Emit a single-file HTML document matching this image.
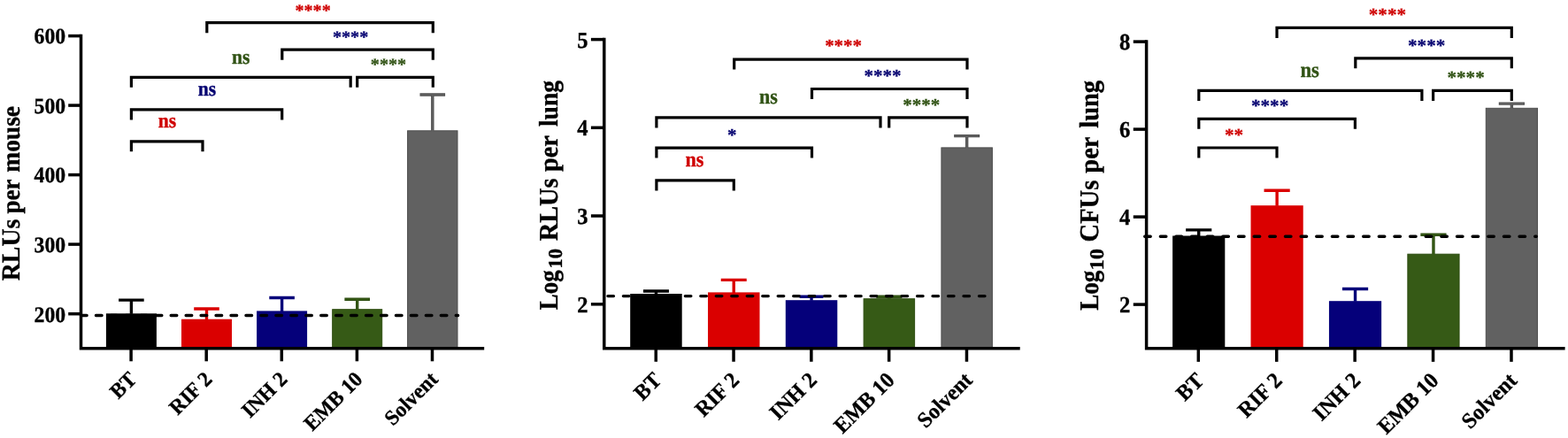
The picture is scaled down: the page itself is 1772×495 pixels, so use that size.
<!DOCTYPE html>
<html lang="en">
<head>
<meta charset="utf-8">
<title>Figure</title>
<style>
html,body{margin:0;padding:0;background:#fff;}
body{width:1772px;height:495px;overflow:hidden;}
svg{display:block;}
svg text{font-family:"Liberation Serif","DejaVu Serif",serif;font-weight:bold;white-space:pre;text-rendering:geometricPrecision;stroke-linejoin:round;}
</style>
</head>
<body>
<svg width="1772" height="495" viewBox="0 0 1772 495">
<rect x="0" y="0" width="1772" height="495" fill="#ffffff"/>
<rect x="119.90" y="354.30" width="57.00" height="39.40" fill="#000000"/>
<path d="M148.40 354.80V339.10M134.10 339.10H162.70" fill="none" stroke="#000000" stroke-width="3.4"/>
<rect x="205.00" y="360.70" width="57.00" height="33.00" fill="#da0000"/>
<path d="M233.50 361.20V349.00M219.20 349.00H247.80" fill="none" stroke="#da0000" stroke-width="3.4"/>
<rect x="290.10" y="351.40" width="57.00" height="42.30" fill="#05007a"/>
<path d="M318.60 351.90V336.50M304.30 336.50H332.90" fill="none" stroke="#05007a" stroke-width="3.4"/>
<rect x="375.70" y="349.70" width="56.00" height="44.00" fill="#365a16" stroke="#2d4d11" stroke-width="1"/>
<path d="M403.70 349.70V338.30M389.40 338.30H418.00" fill="none" stroke="#2d4d11" stroke-width="3.4"/>
<path d="M403.70 350.70V338.30M390.30 338.30H417.10" fill="none" stroke="#365a16" stroke-width="1.6"/>
<rect x="460.60" y="147.80" width="56.40" height="245.90" fill="#616161" stroke="#4e4e4e" stroke-width="1"/>
<path d="M488.80 147.80V107.00M474.50 107.00H503.10" fill="none" stroke="#4e4e4e" stroke-width="3.4"/>
<path d="M488.80 148.80V107.00M475.40 107.00H502.20" fill="none" stroke="#616161" stroke-width="1.6"/>
<path d="M91.50 356.50H517.60" fill="none" stroke="#000000" stroke-width="3.4" stroke-linecap="round" stroke-dasharray="6.6 10.35" stroke-dashoffset="0"/>
<path d="M91.50 38.85V393.70H547.20" fill="none" stroke="#000000" stroke-width="3.5" stroke-linejoin="miter" stroke-linecap="butt"/>
<path d="M77.20 40.60H91.50" stroke="#000000" stroke-width="3.5" fill="none"/>
<text transform="translate(74.20 49.40) scale(0.95 1)" font-size="25.0" fill="#000000" stroke="#000000" stroke-width="0.35" text-anchor="end">600</text>
<path d="M77.20 119.10H91.50" stroke="#000000" stroke-width="3.5" fill="none"/>
<text transform="translate(74.20 127.90) scale(0.95 1)" font-size="25.0" fill="#000000" stroke="#000000" stroke-width="0.35" text-anchor="end">500</text>
<path d="M77.20 197.60H91.50" stroke="#000000" stroke-width="3.5" fill="none"/>
<text transform="translate(74.20 206.40) scale(0.95 1)" font-size="25.0" fill="#000000" stroke="#000000" stroke-width="0.35" text-anchor="end">400</text>
<path d="M77.20 276.10H91.50" stroke="#000000" stroke-width="3.5" fill="none"/>
<text transform="translate(74.20 284.90) scale(0.95 1)" font-size="25.0" fill="#000000" stroke="#000000" stroke-width="0.35" text-anchor="end">300</text>
<path d="M77.20 354.70H91.50" stroke="#000000" stroke-width="3.5" fill="none"/>
<text transform="translate(74.20 363.50) scale(0.95 1)" font-size="25.0" fill="#000000" stroke="#000000" stroke-width="0.35" text-anchor="end">200</text>
<path d="M148.10 393.70V408.30" stroke="#000000" stroke-width="3.5" fill="none"/>
<path d="M233.20 393.70V408.30" stroke="#000000" stroke-width="3.5" fill="none"/>
<path d="M318.30 393.70V408.30" stroke="#000000" stroke-width="3.5" fill="none"/>
<path d="M403.40 393.70V408.30" stroke="#000000" stroke-width="3.5" fill="none"/>
<path d="M488.50 393.70V408.30" stroke="#000000" stroke-width="3.5" fill="none"/>
<text transform="translate(155.80 429.90) rotate(-45) scale(0.97 1)" font-size="24.0" fill="#000000" stroke="#000000" stroke-width="0.35" text-anchor="end">BT</text>
<text transform="translate(240.90 429.90) rotate(-45) scale(0.97 1)" font-size="24.0" fill="#000000" stroke="#000000" stroke-width="0.35" text-anchor="end">RIF 2</text>
<text transform="translate(326.00 429.90) rotate(-45) scale(0.97 1)" font-size="24.0" fill="#000000" stroke="#000000" stroke-width="0.35" text-anchor="end">INH 2</text>
<text transform="translate(411.10 429.90) rotate(-45) scale(0.97 1)" font-size="24.0" fill="#000000" stroke="#000000" stroke-width="0.35" text-anchor="end">EMB 10</text>
<text transform="translate(496.20 429.90) rotate(-45) scale(0.97 1)" font-size="24.0" fill="#000000" stroke="#000000" stroke-width="0.35" text-anchor="end">Solvent</text>
<text transform="translate(21.50 0) rotate(-90)" fill="#000000" stroke="#000000" stroke-width="0.35" text-anchor="start"><tspan x="-317.25" y="0.00" font-size="29.3" textLength="69.60" lengthAdjust="spacingAndGlyphs">RLUs</tspan> <tspan x="-241.56" y="0.00" font-size="29.3" textLength="38.92" lengthAdjust="spacingAndGlyphs">per</tspan> <tspan x="-194.72" y="0.00" font-size="29.3" textLength="74.74" lengthAdjust="spacingAndGlyphs">mouse</tspan></text>
<path d="M233.80 37.20V25.70H489.30V37.20" fill="none" stroke="#000000" stroke-width="3.2" stroke-linecap="butt" stroke-linejoin="miter"/>
<path d="M318.80 67.70V56.20H489.30V67.70" fill="none" stroke="#000000" stroke-width="3.2" stroke-linecap="butt" stroke-linejoin="miter"/>
<path d="M148.40 98.80V87.30H396.20V98.80" fill="none" stroke="#000000" stroke-width="3.2" stroke-linecap="butt" stroke-linejoin="miter"/>
<path d="M403.70 98.80V87.30H489.30V98.80" fill="none" stroke="#000000" stroke-width="3.2" stroke-linecap="butt" stroke-linejoin="miter"/>
<path d="M148.40 135.40V123.90H318.70V135.40" fill="none" stroke="#000000" stroke-width="3.2" stroke-linecap="butt" stroke-linejoin="miter"/>
<path d="M148.40 171.30V159.80H229.00V171.30" fill="none" stroke="#000000" stroke-width="3.2" stroke-linecap="butt" stroke-linejoin="miter"/>
<text transform="translate(353.60 18.10) scale(1.06 1)" font-size="19.0" fill="#cf0000" stroke="#cf0000" stroke-width="0.3" text-anchor="middle">****</text>
<text transform="translate(396.10 48.30) scale(1.06 1)" font-size="19.0" fill="#040070" stroke="#040070" stroke-width="0.3" text-anchor="middle">****</text>
<text transform="translate(439.00 79.30) scale(1.06 1)" font-size="19.0" fill="#305214" stroke="#305214" stroke-width="0.3" text-anchor="middle">****</text>
<text transform="translate(272.30 72.00) scale(0.92 1)" font-size="23.5" fill="#305214" stroke="#305214" stroke-width="0.35" text-anchor="middle">ns</text>
<text transform="translate(234.00 108.00) scale(0.92 1)" font-size="23.5" fill="#040070" stroke="#040070" stroke-width="0.35" text-anchor="middle">ns</text>
<text transform="translate(189.00 144.30) scale(0.92 1)" font-size="23.5" fill="#cf0000" stroke="#cf0000" stroke-width="0.35" text-anchor="middle">ns</text>
<rect x="712.20" y="332.00" width="58.50" height="61.70" fill="#000000"/>
<path d="M741.45 332.50V329.00M726.95 329.00H755.95" fill="none" stroke="#000000" stroke-width="3.4"/>
<rect x="800.00" y="330.40" width="58.50" height="63.30" fill="#da0000"/>
<path d="M829.25 330.90V316.40M814.75 316.40H843.75" fill="none" stroke="#da0000" stroke-width="3.4"/>
<rect x="887.80" y="339.20" width="58.50" height="54.50" fill="#05007a"/>
<path d="M917.05 339.70V335.20M903.55 335.20H930.55" fill="none" stroke="#05007a" stroke-width="3.4"/>
<rect x="976.10" y="337.70" width="57.50" height="56.00" fill="#365a16" stroke="#2d4d11" stroke-width="1"/>
<path d="M1004.85 337.70V335.20M990.35 335.20H1019.35" fill="none" stroke="#2d4d11" stroke-width="3.4"/>
<path d="M1004.85 338.70V335.20M991.25 335.20H1018.45" fill="none" stroke="#365a16" stroke-width="1.6"/>
<rect x="1063.90" y="166.90" width="57.50" height="226.80" fill="#616161" stroke="#4e4e4e" stroke-width="1"/>
<path d="M1092.65 166.90V153.60M1078.15 153.60H1107.15" fill="none" stroke="#4e4e4e" stroke-width="3.4"/>
<path d="M1092.65 167.90V153.60M1079.05 153.60H1106.25" fill="none" stroke="#616161" stroke-width="1.6"/>
<path d="M686.95 334.60H1113.40" fill="none" stroke="#000000" stroke-width="3.4" stroke-linecap="round" stroke-dasharray="6.5 10.98" stroke-dashoffset="0"/>
<path d="M682.75 42.85V393.70H1152.70" fill="none" stroke="#000000" stroke-width="3.5" stroke-linejoin="miter" stroke-linecap="butt"/>
<path d="M667.90 44.60H682.75" stroke="#000000" stroke-width="3.5" fill="none"/>
<text transform="translate(664.60 53.68) scale(0.95 1)" font-size="25.8" fill="#000000" stroke="#000000" stroke-width="0.35" text-anchor="end">5</text>
<path d="M667.90 144.30H682.75" stroke="#000000" stroke-width="3.5" fill="none"/>
<text transform="translate(664.60 153.38) scale(0.95 1)" font-size="25.8" fill="#000000" stroke="#000000" stroke-width="0.35" text-anchor="end">4</text>
<path d="M667.90 244.00H682.75" stroke="#000000" stroke-width="3.5" fill="none"/>
<text transform="translate(664.60 253.08) scale(0.95 1)" font-size="25.8" fill="#000000" stroke="#000000" stroke-width="0.35" text-anchor="end">3</text>
<path d="M667.90 343.80H682.75" stroke="#000000" stroke-width="3.5" fill="none"/>
<text transform="translate(664.60 352.88) scale(0.95 1)" font-size="25.8" fill="#000000" stroke="#000000" stroke-width="0.35" text-anchor="end">2</text>
<path d="M741.25 393.70V408.77" stroke="#000000" stroke-width="3.5" fill="none"/>
<path d="M829.05 393.70V408.77" stroke="#000000" stroke-width="3.5" fill="none"/>
<path d="M916.85 393.70V408.77" stroke="#000000" stroke-width="3.5" fill="none"/>
<path d="M1004.65 393.70V408.77" stroke="#000000" stroke-width="3.5" fill="none"/>
<path d="M1092.45 393.70V408.77" stroke="#000000" stroke-width="3.5" fill="none"/>
<text transform="translate(748.85 431.00) rotate(-45) scale(0.97 1)" font-size="24.77" fill="#000000" stroke="#000000" stroke-width="0.35" text-anchor="end">BT</text>
<text transform="translate(836.65 431.00) rotate(-45) scale(0.97 1)" font-size="24.77" fill="#000000" stroke="#000000" stroke-width="0.35" text-anchor="end">RIF 2</text>
<text transform="translate(924.45 431.00) rotate(-45) scale(0.97 1)" font-size="24.77" fill="#000000" stroke="#000000" stroke-width="0.35" text-anchor="end">INH 2</text>
<text transform="translate(1012.25 431.00) rotate(-45) scale(0.97 1)" font-size="24.77" fill="#000000" stroke="#000000" stroke-width="0.35" text-anchor="end">EMB 10</text>
<text transform="translate(1100.05 431.00) rotate(-45) scale(0.97 1)" font-size="24.77" fill="#000000" stroke="#000000" stroke-width="0.35" text-anchor="end">Solvent</text>
<text transform="translate(629.50 0) rotate(-90)" fill="#000000" stroke="#000000" stroke-width="0.35" text-anchor="start"><tspan x="-350.18" y="0.00" font-size="30.24" textLength="44.86" lengthAdjust="spacingAndGlyphs">Log</tspan> <tspan x="-303.45" y="5.80" font-size="22.5" textLength="22.50" lengthAdjust="spacingAndGlyphs">10</tspan> <tspan x="-272.28" y="0.00" font-size="30.24" textLength="70.85" lengthAdjust="spacingAndGlyphs">RLUs</tspan> <tspan x="-194.11" y="0.00" font-size="30.24" textLength="40.91" lengthAdjust="spacingAndGlyphs">per</tspan> <tspan x="-143.10" y="0.00" font-size="30.24" textLength="52.30" lengthAdjust="spacingAndGlyphs">lung</tspan></text>
<path d="M829.70 78.60V67.10H1093.00V78.60" fill="none" stroke="#000000" stroke-width="3.2" stroke-linecap="butt" stroke-linejoin="miter"/>
<path d="M917.50 112.00V100.50H1093.00V112.00" fill="none" stroke="#000000" stroke-width="3.2" stroke-linecap="butt" stroke-linejoin="miter"/>
<path d="M741.90 144.40V132.90H995.00V144.40" fill="none" stroke="#000000" stroke-width="3.2" stroke-linecap="butt" stroke-linejoin="miter"/>
<path d="M1004.70 144.40V132.90H1093.00V144.40" fill="none" stroke="#000000" stroke-width="3.2" stroke-linecap="butt" stroke-linejoin="miter"/>
<path d="M741.90 178.60V167.10H917.50V178.60" fill="none" stroke="#000000" stroke-width="3.2" stroke-linecap="butt" stroke-linejoin="miter"/>
<path d="M741.90 215.40V203.90H829.30V215.40" fill="none" stroke="#000000" stroke-width="3.2" stroke-linecap="butt" stroke-linejoin="miter"/>
<text transform="translate(953.10 58.10) scale(1.06 1)" font-size="19.8" fill="#cf0000" stroke="#cf0000" stroke-width="0.3" text-anchor="middle">****</text>
<text transform="translate(997.40 92.30) scale(1.06 1)" font-size="19.8" fill="#040070" stroke="#040070" stroke-width="0.3" text-anchor="middle">****</text>
<text transform="translate(1041.30 124.60) scale(1.06 1)" font-size="19.8" fill="#305214" stroke="#305214" stroke-width="0.3" text-anchor="middle">****</text>
<text transform="translate(868.50 117.00) scale(0.92 1)" font-size="24" fill="#305214" stroke="#305214" stroke-width="0.35" text-anchor="middle">ns</text>
<text transform="translate(827.20 158.90) scale(1.06 1)" font-size="19.8" fill="#040070" stroke="#040070" stroke-width="0.3" text-anchor="middle">*</text>
<text transform="translate(785.00 188.00) scale(0.92 1)" font-size="24" fill="#cf0000" stroke="#cf0000" stroke-width="0.35" text-anchor="middle">ns</text>
<rect x="1325.10" y="266.50" width="59.20" height="127.20" fill="#000000"/>
<path d="M1354.70 267.00V259.90M1340.10 259.90H1369.30" fill="none" stroke="#000000" stroke-width="3.4"/>
<rect x="1413.52" y="232.20" width="59.20" height="161.50" fill="#da0000"/>
<path d="M1443.12 232.70V215.30M1428.52 215.30H1457.72" fill="none" stroke="#da0000" stroke-width="3.4"/>
<rect x="1501.94" y="340.20" width="59.20" height="53.50" fill="#05007a"/>
<path d="M1531.54 340.70V326.50M1516.94 326.50H1546.14" fill="none" stroke="#05007a" stroke-width="3.4"/>
<rect x="1590.86" y="287.20" width="58.20" height="106.50" fill="#365a16" stroke="#2d4d11" stroke-width="1"/>
<path d="M1619.96 287.20V265.30M1605.36 265.30H1634.56" fill="none" stroke="#2d4d11" stroke-width="3.4"/>
<path d="M1619.96 288.20V265.30M1606.26 265.30H1633.66" fill="none" stroke="#365a16" stroke-width="1.6"/>
<rect x="1679.28" y="122.30" width="58.20" height="271.40" fill="#616161" stroke="#4e4e4e" stroke-width="1"/>
<path d="M1708.38 122.30V117.10M1693.78 117.10H1722.98" fill="none" stroke="#4e4e4e" stroke-width="3.4"/>
<path d="M1708.38 123.30V117.10M1694.68 117.10H1722.08" fill="none" stroke="#616161" stroke-width="1.6"/>
<path d="M1293.70 267.30H1736.30" fill="none" stroke="#000000" stroke-width="3.4" stroke-linecap="round" stroke-dasharray="6.5 11.14" stroke-dashoffset="0"/>
<path d="M1295.60 45.35V393.70H1768.60" fill="none" stroke="#000000" stroke-width="3.5" stroke-linejoin="miter" stroke-linecap="butt"/>
<path d="M1280.75 47.10H1295.60" stroke="#000000" stroke-width="3.5" fill="none"/>
<text transform="translate(1277.45 56.24) scale(0.95 1)" font-size="25.97" fill="#000000" stroke="#000000" stroke-width="0.35" text-anchor="end">8</text>
<path d="M1280.75 146.10H1295.60" stroke="#000000" stroke-width="3.5" fill="none"/>
<text transform="translate(1277.45 155.24) scale(0.95 1)" font-size="25.97" fill="#000000" stroke="#000000" stroke-width="0.35" text-anchor="end">6</text>
<path d="M1280.75 245.10H1295.60" stroke="#000000" stroke-width="3.5" fill="none"/>
<text transform="translate(1277.45 254.24) scale(0.95 1)" font-size="25.97" fill="#000000" stroke="#000000" stroke-width="0.35" text-anchor="end">4</text>
<path d="M1280.75 344.10H1295.60" stroke="#000000" stroke-width="3.5" fill="none"/>
<text transform="translate(1277.45 353.24) scale(0.95 1)" font-size="25.97" fill="#000000" stroke="#000000" stroke-width="0.35" text-anchor="end">2</text>
<path d="M1354.30 393.70V408.87" stroke="#000000" stroke-width="3.5" fill="none"/>
<path d="M1442.72 393.70V408.87" stroke="#000000" stroke-width="3.5" fill="none"/>
<path d="M1531.14 393.70V408.87" stroke="#000000" stroke-width="3.5" fill="none"/>
<path d="M1619.56 393.70V408.87" stroke="#000000" stroke-width="3.5" fill="none"/>
<path d="M1707.98 393.70V408.87" stroke="#000000" stroke-width="3.5" fill="none"/>
<text transform="translate(1361.90 431.50) rotate(-45) scale(0.97 1)" font-size="24.94" fill="#000000" stroke="#000000" stroke-width="0.35" text-anchor="end">BT</text>
<text transform="translate(1450.32 431.50) rotate(-45) scale(0.97 1)" font-size="24.94" fill="#000000" stroke="#000000" stroke-width="0.35" text-anchor="end">RIF 2</text>
<text transform="translate(1538.74 431.50) rotate(-45) scale(0.97 1)" font-size="24.94" fill="#000000" stroke="#000000" stroke-width="0.35" text-anchor="end">INH 2</text>
<text transform="translate(1627.16 431.50) rotate(-45) scale(0.97 1)" font-size="24.94" fill="#000000" stroke="#000000" stroke-width="0.35" text-anchor="end">EMB 10</text>
<text transform="translate(1715.58 431.50) rotate(-45) scale(0.97 1)" font-size="24.94" fill="#000000" stroke="#000000" stroke-width="0.35" text-anchor="end">Solvent</text>
<text transform="translate(1241.00 0) rotate(-90)" fill="#000000" stroke="#000000" stroke-width="0.35" text-anchor="start"><tspan x="-350.78" y="0.00" font-size="30.44" textLength="45.16" lengthAdjust="spacingAndGlyphs">Log</tspan> <tspan x="-305.53" y="5.60" font-size="22.65" textLength="24.46" lengthAdjust="spacingAndGlyphs">10</tspan> <tspan x="-273.41" y="0.00" font-size="30.44" textLength="69.72" lengthAdjust="spacingAndGlyphs">CFUs</tspan> <tspan x="-195.69" y="0.00" font-size="30.44" textLength="41.18" lengthAdjust="spacingAndGlyphs">per</tspan> <tspan x="-144.81" y="0.00" font-size="30.44" textLength="53.91" lengthAdjust="spacingAndGlyphs">lung</tspan></text>
<path d="M1443.00 42.90V31.40H1708.30V42.90" fill="none" stroke="#000000" stroke-width="3.2" stroke-linecap="butt" stroke-linejoin="miter"/>
<path d="M1531.80 77.30V65.80H1708.30V77.30" fill="none" stroke="#000000" stroke-width="3.2" stroke-linecap="butt" stroke-linejoin="miter"/>
<path d="M1354.80 113.90V102.40H1606.90V113.90" fill="none" stroke="#000000" stroke-width="3.2" stroke-linecap="butt" stroke-linejoin="miter"/>
<path d="M1619.60 113.90V102.40H1708.30V113.90" fill="none" stroke="#000000" stroke-width="3.2" stroke-linecap="butt" stroke-linejoin="miter"/>
<path d="M1354.80 145.80V134.30H1531.40V145.80" fill="none" stroke="#000000" stroke-width="3.2" stroke-linecap="butt" stroke-linejoin="miter"/>
<path d="M1354.80 178.50V167.00H1443.00V178.50" fill="none" stroke="#000000" stroke-width="3.2" stroke-linecap="butt" stroke-linejoin="miter"/>
<text transform="translate(1567.90 22.70) scale(1.06 1)" font-size="20.0" fill="#cf0000" stroke="#cf0000" stroke-width="0.3" text-anchor="middle">****</text>
<text transform="translate(1612.20 57.80) scale(1.06 1)" font-size="20.0" fill="#040070" stroke="#040070" stroke-width="0.3" text-anchor="middle">****</text>
<text transform="translate(1656.60 93.60) scale(1.06 1)" font-size="20.0" fill="#305214" stroke="#305214" stroke-width="0.3" text-anchor="middle">****</text>
<text transform="translate(1480.20 86.50) scale(0.92 1)" font-size="24.6" fill="#305214" stroke="#305214" stroke-width="0.35" text-anchor="middle">ns</text>
<text transform="translate(1435.10 125.80) scale(1.06 1)" font-size="20.0" fill="#040070" stroke="#040070" stroke-width="0.3" text-anchor="middle">****</text>
<text transform="translate(1394.60 159.00) scale(1.06 1)" font-size="20.0" fill="#cf0000" stroke="#cf0000" stroke-width="0.3" text-anchor="middle">**</text>
</svg>
</body>
</html>
